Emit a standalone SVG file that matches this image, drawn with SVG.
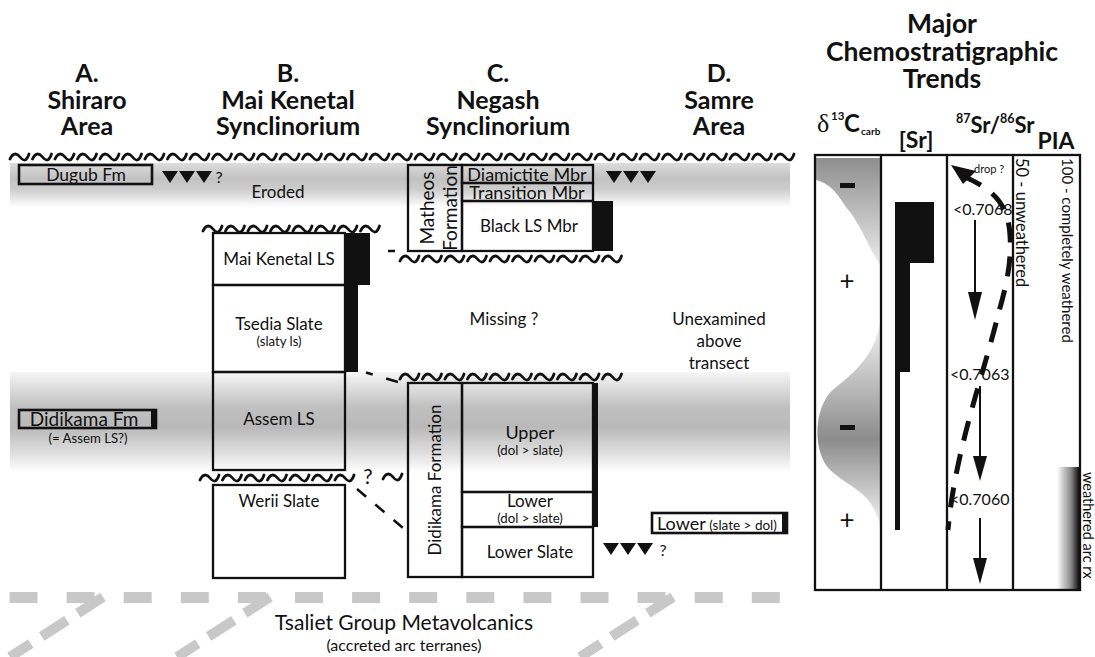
<svg xmlns="http://www.w3.org/2000/svg" width="1095" height="657" viewBox="0 0 1095 657">
<defs>
<linearGradient id="band1" x1="0" y1="0" x2="0" y2="1">
<stop offset="0" stop-color="#dcdcdc"/><stop offset="0.35" stop-color="#c2c2c2"/><stop offset="0.6" stop-color="#cdcdcd"/><stop offset="1" stop-color="#ffffff"/>
</linearGradient>
<linearGradient id="band2" x1="0" y1="0" x2="0" y2="1">
<stop offset="0" stop-color="#f6f6f6"/><stop offset="0.35" stop-color="#c0c0c0"/><stop offset="0.55" stop-color="#b9b9b9"/><stop offset="0.8" stop-color="#dddddd"/><stop offset="1" stop-color="#ffffff"/>
</linearGradient>
<linearGradient id="c13top" x1="0" y1="0" x2="0" y2="1">
<stop offset="0" stop-color="#8e8e8e"/><stop offset="1" stop-color="#ebebeb"/>
</linearGradient>
<linearGradient id="c13mid" x1="0" y1="0" x2="0" y2="1">
<stop offset="0" stop-color="#f2f2f2"/><stop offset="0.57" stop-color="#8c8c8c"/><stop offset="1" stop-color="#f5f5f5"/>
</linearGradient>
<linearGradient id="pia" x1="0" y1="0" x2="1" y2="0">
<stop offset="0" stop-color="#ffffff"/><stop offset="0.6" stop-color="#8a8a8a"/><stop offset="1" stop-color="#000000"/>
</linearGradient>
<path id="tri" d="M0,0 L16,0 L8,12 Z" fill="#111"/>
</defs>
<style>
.t{font-family:Lato,"Liberation Sans",sans-serif;fill:#111;font-size:17px;text-anchor:middle}
.s{font-size:13.2px}
.h{font-family:Lato,"Liberation Sans",sans-serif;font-weight:bold;font-size:25px;fill:#111;text-anchor:middle}
.hb{font-family:Lato,"Liberation Sans",sans-serif;font-weight:bold;fill:#111}
.box{fill:none;stroke:#111;stroke-width:2.3}
.blk{fill:#111}
.tl{fill:none;stroke:#111;stroke-width:2.8;stroke-linecap:round;stroke-linejoin:round}
.dash{fill:none;stroke:#111;stroke-width:2.5}
.gd{fill:none;stroke:#c8c8c8;stroke-width:11}
</style>
<rect x="0" y="0" width="1095" height="657" fill="#ffffff"/>

<g id="bands">
<rect x="10" y="163" width="780" height="44" fill="url(#band1)"/>
<rect x="10" y="372" width="780" height="100" fill="url(#band2)"/>
</g>

<g id="headers">
<text class="h" x="87" y="82">A.</text><text class="h" x="87" y="108.5">Shiraro</text><text class="h" x="87" y="135">Area</text>
<text class="h" x="288" y="82">B.</text><text class="h" x="288" y="108.5">Mai Kenetal</text><text class="h" x="288" y="135">Synclinorium</text>
<text class="h" x="498" y="82">C.</text><text class="h" x="498" y="108.5">Negash</text><text class="h" x="498" y="135">Synclinorium</text>
<text class="h" x="719" y="82">D.</text><text class="h" x="719" y="108.5">Samre</text><text class="h" x="719" y="135">Area</text>
<text class="h" x="942" y="33" style="font-size:26.5px">Major</text><text class="h" x="942" y="61" style="font-size:26.5px">Chemostratigraphic</text><text class="h" x="942" y="88" style="font-size:26.5px">Trends</text>
</g>

<g id="unconformities">
<path class="tl" d="M10,159c2.5-6 6.5-6.5 10-2s6.5 4.5 9-3m3.5 5c2.5-6 6.5-6.5 10-2s6.5 4.5 9-3m3.5 5c2.5-6 6.5-6.5 10-2s6.5 4.5 9-3m3.5 5c2.5-6 6.5-6.5 10-2s6.5 4.5 9-3m3.5 5c2.5-6 6.5-6.5 10-2s6.5 4.5 9-3m3.5 5c2.5-6 6.5-6.5 10-2s6.5 4.5 9-3m3.5 5c2.5-6 6.5-6.5 10-2s6.5 4.5 9-3m3.5 5c2.5-6 6.5-6.5 10-2s6.5 4.5 9-3m3.5 5c2.5-6 6.5-6.5 10-2s6.5 4.5 9-3m3.5 5c2.5-6 6.5-6.5 10-2s6.5 4.5 9-3m3.5 5c2.5-6 6.5-6.5 10-2s6.5 4.5 9-3m3.5 5c2.5-6 6.5-6.5 10-2s6.5 4.5 9-3m3.5 5c2.5-6 6.5-6.5 10-2s6.5 4.5 9-3m3.5 5c2.5-6 6.5-6.5 10-2s6.5 4.5 9-3m3.5 5c2.5-6 6.5-6.5 10-2s6.5 4.5 9-3m3.5 5c2.5-6 6.5-6.5 10-2s6.5 4.5 9-3m3.5 5c2.5-6 6.5-6.5 10-2s6.5 4.5 9-3m3.5 5c2.5-6 6.5-6.5 10-2s6.5 4.5 9-3m3.5 5c2.5-6 6.5-6.5 10-2s6.5 4.5 9-3m3.5 5c2.5-6 6.5-6.5 10-2s6.5 4.5 9-3m3.5 5c2.5-6 6.5-6.5 10-2s6.5 4.5 9-3m3.5 5c2.5-6 6.5-6.5 10-2s6.5 4.5 9-3m3.5 5c2.5-6 6.5-6.5 10-2s6.5 4.5 9-3m3.5 5c2.5-6 6.5-6.5 10-2s6.5 4.5 9-3m3.5 5c2.5-6 6.5-6.5 10-2s6.5 4.5 9-3m3.5 5c2.5-6 6.5-6.5 10-2s6.5 4.5 9-3m3.5 5c2.5-6 6.5-6.5 10-2s6.5 4.5 9-3m3.5 5c2.5-6 6.5-6.5 10-2s6.5 4.5 9-3m3.5 5c2.5-6 6.5-6.5 10-2s6.5 4.5 9-3m3.5 5c2.5-6 6.5-6.5 10-2s6.5 4.5 9-3m3.5 5c2.5-6 6.5-6.5 10-2s6.5 4.5 9-3m3.5 5c2.5-6 6.5-6.5 10-2s6.5 4.5 9-3m3.5 5c2.5-6 6.5-6.5 10-2s6.5 4.5 9-3m3.5 5c2.5-6 6.5-6.5 10-2s6.5 4.5 9-3m3.5 5c2.5-6 6.5-6.5 10-2s6.5 4.5 9-3"/>
<path class="tl" d="M203,231c2.5-6 6.5-6.5 10-2s6.5 4.5 9-3m3.5 5c2.5-6 6.5-6.5 10-2s6.5 4.5 9-3m3.5 5c2.5-6 6.5-6.5 10-2s6.5 4.5 9-3m3.5 5c2.5-6 6.5-6.5 10-2s6.5 4.5 9-3m3.5 5c2.5-6 6.5-6.5 10-2s6.5 4.5 9-3m3.5 5c2.5-6 6.5-6.5 10-2s6.5 4.5 9-3m3.5 5c2.5-6 6.5-6.5 10-2s6.5 4.5 9-3m3.5 5c2.5-6 6.5-6.5 10-2s6.5 4.5 9-3"/>
<path class="tl" d="M400,261c2.5-6 6.5-6.5 10-2s6.5 4.5 9-3m3.5 5c2.5-6 6.5-6.5 10-2s6.5 4.5 9-3m3.5 5c2.5-6 6.5-6.5 10-2s6.5 4.5 9-3m3.5 5c2.5-6 6.5-6.5 10-2s6.5 4.5 9-3m3.5 5c2.5-6 6.5-6.5 10-2s6.5 4.5 9-3m3.5 5c2.5-6 6.5-6.5 10-2s6.5 4.5 9-3m3.5 5c2.5-6 6.5-6.5 10-2s6.5 4.5 9-3m3.5 5c2.5-6 6.5-6.5 10-2s6.5 4.5 9-3m3.5 5c2.5-6 6.5-6.5 10-2s6.5 4.5 9-3m3.5 5c2.5-6 6.5-6.5 10-2s6.5 4.5 9-3"/>
<path class="tl" d="M400,379c2.5-6 6.5-6.5 10-2s6.5 4.5 9-3m3.5 5c2.5-6 6.5-6.5 10-2s6.5 4.5 9-3m3.5 5c2.5-6 6.5-6.5 10-2s6.5 4.5 9-3m3.5 5c2.5-6 6.5-6.5 10-2s6.5 4.5 9-3m3.5 5c2.5-6 6.5-6.5 10-2s6.5 4.5 9-3m3.5 5c2.5-6 6.5-6.5 10-2s6.5 4.5 9-3m3.5 5c2.5-6 6.5-6.5 10-2s6.5 4.5 9-3m3.5 5c2.5-6 6.5-6.5 10-2s6.5 4.5 9-3m3.5 5c2.5-6 6.5-6.5 10-2s6.5 4.5 9-3m3.5 5c2.5-6 6.5-6.5 10-2s6.5 4.5 9-3"/>
<path class="tl" d="M200,480c2.5-6 6.5-6.5 10-2s6.5 4.5 9-3m3.5 5c2.5-6 6.5-6.5 10-2s6.5 4.5 9-3m3.5 5c2.5-6 6.5-6.5 10-2s6.5 4.5 9-3m3.5 5c2.5-6 6.5-6.5 10-2s6.5 4.5 9-3m3.5 5c2.5-6 6.5-6.5 10-2s6.5 4.5 9-3m3.5 5c2.5-6 6.5-6.5 10-2s6.5 4.5 9-3m3.5 5c2.5-6 6.5-6.5 10-2s6.5 4.5 9-3"/>
<path class="tl" d="M383,479c2.5-6 6.5-6.5 10-2s6.5 4.5 9-3"/>
<text class="t" x="368" y="484" style="font-size:21px">?</text>
</g>

<g id="col-A">
<g id="dugub-fm">
<rect class="box" x="19" y="165" width="133" height="19" style="stroke-width:2.6"/>
<text class="t" x="86" y="181" style="font-size:17.5px">Dugub Fm</text>
<use href="#tri" x="162" y="171"/><use href="#tri" x="179" y="171"/><use href="#tri" x="196" y="171"/>
<text class="t" x="219" y="183" style="font-size:16px">?</text>
</g>
<g id="didikama-fm">
<rect class="box" x="19" y="410" width="137" height="18" style="stroke-width:2.6"/>
<rect class="blk" x="151" y="410" width="6" height="18"/>
<text class="t" x="84" y="426" style="font-size:19px">Didikama Fm</text>
<text class="t s" x="88" y="443">(= Assem LS?)</text>
</g>
</g>

<g id="eroded"><text class="t" x="278" y="198">Eroded</text></g>

<g id="col-B">
<polygon class="blk" points="345,233 370,233 370,285 358,285 358,372 345,372"/>
<g id="mai-kenetal-ls"><rect class="box" x="213" y="233" width="132" height="52"/><text class="t" x="279" y="265">Mai Kenetal LS</text></g>
<g id="tsedia-slate"><rect class="box" x="213" y="285" width="132" height="87"/><text class="t" x="279" y="330">Tsedia Slate</text><text class="t s" x="279" y="346">(slaty ls)</text></g>
<g id="assem-ls"><rect class="box" x="213" y="372" width="132" height="98"/><text class="t" x="279" y="425">Assem LS</text></g>
<g id="werii-slate"><rect class="box" x="213" y="485" width="132" height="93"/><text class="t" x="279" y="507">Werii Slate</text></g>
</g>

<g id="col-C">
<g id="matheos">
<rect class="box" x="408" y="165" width="54" height="86"/>
<text class="t" transform="translate(434,208) rotate(-90)" style="font-size:19px">Matheos</text>
<text class="t" transform="translate(457,208) rotate(-90)" style="font-size:19px">Formation</text>
<rect class="box" x="462" y="165" width="131" height="18"/><text class="t" x="527" y="181" style="font-size:18px">Diamictite Mbr</text>
<rect class="box" x="462" y="183" width="131" height="18"/><text class="t" x="527" y="199" style="font-size:18px">Transition Mbr</text>
<rect class="blk" x="593" y="201" width="20" height="50"/>
<rect class="box" x="462" y="201" width="131" height="50"/><text class="t" x="529" y="232">Black LS Mbr</text>
<use href="#tri" x="606" y="171"/><use href="#tri" x="623" y="171"/><use href="#tri" x="640" y="171"/>
</g>
<g id="missing"><text class="t" x="504" y="325">Missing ?</text></g>
<g id="didikama">
<rect class="blk" x="593" y="383" width="5" height="144"/>
<rect class="box" x="408" y="383" width="54" height="194"/>
<text class="t" transform="translate(441,480) rotate(-90)">Didikama Formation</text>
<rect class="box" x="462" y="383" width="131" height="109"/>
<text class="t" x="530" y="439" style="font-size:18px">Upper</text><text class="t s" x="530" y="455">(dol &gt; slate)</text>
<rect class="box" x="462" y="492" width="131" height="35"/>
<text class="t" x="530" y="507">Lower</text><text class="t s" x="530" y="523">(dol &gt; slate)</text>
<rect class="box" x="462" y="527" width="131" height="50"/>
<text class="t" x="530" y="558">Lower Slate</text>
<use href="#tri" x="603" y="543"/><use href="#tri" x="620" y="543"/><use href="#tri" x="637" y="543"/>
<text class="t" x="663" y="556" style="font-size:16px">?</text>
</g>
</g>

<g id="col-D">
<g id="unexamined"><text class="t" x="719" y="325">Unexamined</text><text class="t" x="719" y="347">above</text><text class="t" x="719" y="369">transect</text></g>
<g id="lower-samre">
<rect class="box" x="652" y="513" width="135" height="20" style="stroke-width:2.6"/>
<rect class="blk" x="782" y="513" width="5" height="20"/>
<text class="t" x="657" y="530" style="text-anchor:start;font-size:18px">Lower<tspan style="font-size:13.5px"> (slate &gt; dol)</tspan></text>
</g>
</g>

<g id="connectors">
<path class="dash" d="M366,372.5 L398,382" stroke-dasharray="7 14 13"/>
<path class="dash" d="M388,251 L395,251"/>
<path class="dash" d="M357,489 L403,528" stroke-dasharray="12 12"/>
</g>

<g id="basement">
<path class="gd" d="M9.5,597.5 H781" stroke-dasharray="28 29.1"/>
<path class="gd" d="M103,597 L10,657" stroke-dasharray="30 13" style="stroke-width:10"/>
<path class="gd" d="M270,597 L177,657" stroke-dasharray="30 13" style="stroke-width:10"/>
<path class="gd" d="M673,597 L580,657" stroke-dasharray="30 13" style="stroke-width:10"/>
<text class="t" x="404" y="630" style="font-size:21px">Tsaliet Group Metavolcanics</text>
<text class="t" x="404" y="651" style="font-size:16px">(accreted arc terranes)</text>
</g>

<g id="chemostratigraphy">
<g id="panel-headers">
<text x="817" y="132" style="font-family:'Liberation Serif',serif;font-size:26px;fill:#111">δ</text>
<text class="hb" x="831" y="120" style="font-size:11.5px">13</text>
<text class="hb" x="844" y="132" style="font-size:24px">C</text>
<text class="hb" x="861" y="135" style="font-size:10px">carb</text>
<text class="hb" x="916" y="148" style="font-size:23px;text-anchor:middle">[Sr]</text>
<text class="hb" x="956" y="133" style="font-size:22px"><tspan style="font-size:12.5px" dy="-10">87</tspan><tspan dy="10">Sr/</tspan><tspan style="font-size:12.5px" dy="-10">86</tspan><tspan dy="10">Sr</tspan></text>
<text class="hb" x="1056" y="149" style="font-size:23px;text-anchor:middle">PIA</text>
</g>
<g id="d13c">
<path d="M816,158 L880,158 L880,265 C870,250 862,228 850,212 C840,200 835,185 816,180 Z" fill="url(#c13top)"/>
<path d="M880,322 C876,352 858,370 835,388 C813,405 812,452 830,470 C852,490 874,492 880,528 Z" fill="url(#c13mid)"/>
<rect class="blk" x="840" y="183" width="15" height="5"/>
<rect class="blk" x="840" y="425" width="15" height="5"/>
<text class="t" x="847" y="290" style="font-size:26px">+</text>
<text class="t" x="847" y="529" style="font-size:26px">+</text>
</g>
<g id="sr-conc">
<polygon class="blk" points="895,202 934,202 934,263 910,263 910,372 900,372 900,530 895,530"/>
</g>
<g id="sr-isotope">
<path d="M963,176 C995,190 1008,205 1010,235 C1012,265 1005,290 998,315 C985,370 955,450 948,530" fill="none" stroke="#111" stroke-width="5" stroke-dasharray="20 14"/>
<polygon class="blk" points="951,165 976,171 963,184"/>
<text class="t" x="974" y="173" style="font-size:11px;text-anchor:start">drop ?</text>
<text class="t" x="953" y="215" style="font-size:16px;text-anchor:start">&lt;0.7068</text>
<line x1="975" y1="220" x2="975" y2="295" stroke="#111" stroke-width="2"/>
<polygon class="blk" points="968,292 982,292 975,320"/>
<text class="t" x="950" y="380" style="font-size:16px;text-anchor:start">&lt;0.7063</text>
<line x1="980" y1="386" x2="980" y2="460" stroke="#111" stroke-width="2"/>
<polygon class="blk" points="973,456 987,456 980,481"/>
<text class="t" x="950" y="505" style="font-size:16px;text-anchor:start">&lt;0.7060</text>
<line x1="980" y1="518" x2="980" y2="562" stroke="#111" stroke-width="2"/>
<polygon class="blk" points="973,558 987,558 980,584"/>
</g>
<g id="pia-col">
<rect x="1057" y="467" width="23" height="122" fill="url(#pia)"/>
<text class="t" transform="translate(1016,158) rotate(90)" style="font-size:16.5px;text-anchor:start">50 - unweathered</text>
<text class="t" transform="translate(1062,158) rotate(90)" style="font-size:15px;text-anchor:start">100 - completely weathered</text>
<text class="t" transform="translate(1083,472) rotate(90)" style="font-size:14.5px;text-anchor:start">weathered arc rx</text>
</g>
<g id="panel-frame">
<rect class="box" x="815" y="155" width="265" height="435"/>
<line x1="881" y1="155" x2="881" y2="590" stroke="#111" stroke-width="2.3"/>
<line x1="947" y1="155" x2="947" y2="590" stroke="#111" stroke-width="2.3"/>
<line x1="1013" y1="155" x2="1013" y2="590" stroke="#111" stroke-width="2.3"/>
</g>
</g>
</svg>
